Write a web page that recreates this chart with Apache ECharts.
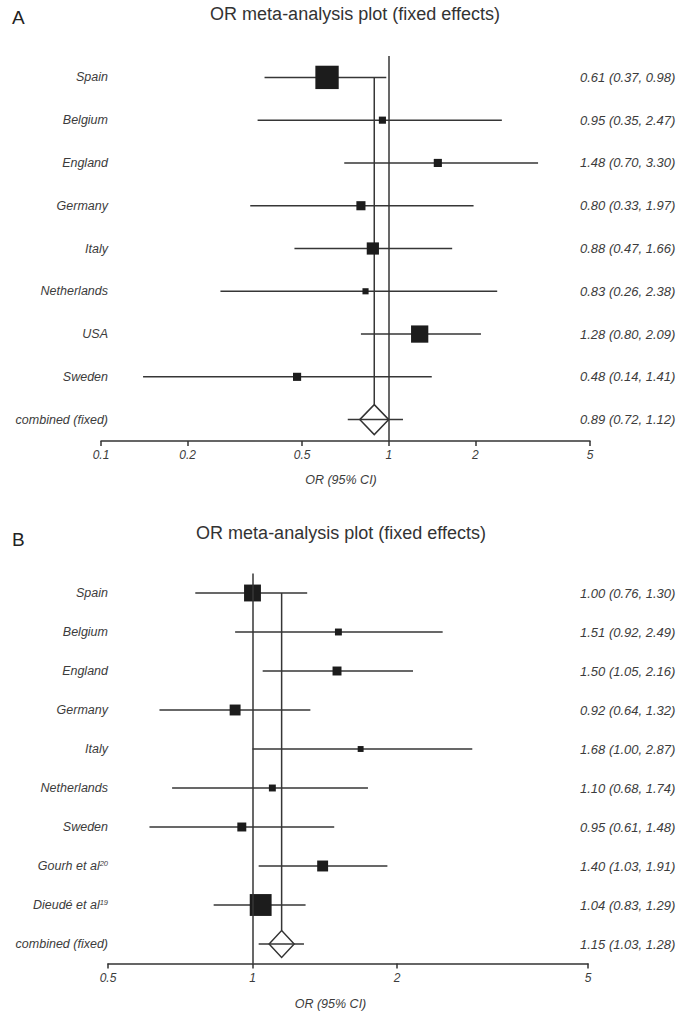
<!DOCTYPE html>
<html><head><meta charset="utf-8">
<script src="https://cdn.jsdelivr.net/npm/echarts@6/dist/echarts.min.js"></script>
<style>html,body{margin:0;padding:0;background:#fff}#c{width:689px;height:1024px}</style>
</head><body><div id="c"></div>
<script>
// ---------- Panel A data ----------
const studiesA = ['Spain','Belgium','England','Germany','Italy','Netherlands','USA','Sweden','combined (fixed)'];
const refsA    = ['','','','','','','','',''];
const orA      = [0.61,0.95,1.48,0.80,0.88,0.83,1.28,0.48,0.89];
const lowA     = [0.37,0.35,0.70,0.33,0.47,0.26,0.80,0.14,0.72];
const highA    = [0.98,2.47,3.30,1.97,1.66,2.38,2.09,1.41,1.12];
const weightA  = [42.1,3.9,5.1,6.4,11.5,2.9,23.0,5.1];   // relative study weights (%)
const ticksA   = [0.1,0.2,0.5,1,2,5];

// ---------- Panel B data ----------
const studiesB = ['Spain','Belgium','England','Germany','Italy','Netherlands','Sweden','Gourh et al','Dieudé et al','combined (fixed)'];
const refsB    = ['','','','','','','','20','19',''];
const orB      = [1.00,1.51,1.50,0.92,1.68,1.10,0.95,1.40,1.04,1.15];
const lowB     = [0.76,0.92,1.05,0.64,1.00,0.68,0.61,1.03,0.83,1.03];
const highB    = [1.30,2.49,2.16,1.32,2.87,1.74,1.48,1.91,1.29,1.28];
const weightB  = [22.0,3.7,6.2,9.2,2.7,3.7,6.2,9.2,36.9];
const ticksB   = [0.5,1,2,5];

const titleText = 'OR meta-analysis plot (fixed effects)';
const axisName = 'OR (95% CI)';

// ---------- styling ----------
const FONT = 'Liberation Sans';
const TXT = '#3c3c3c';
const LINE = '#363636';
const sizeK = 3.6;
const lg = v => Math.log10(v);
const f2 = v => v.toFixed(2);
const fmtTick = v => String(parseFloat(Math.pow(10, v).toPrecision(6)));

const grids = [], xAxes = [], yAxes = [], series = [];

function panel(k, cfg) {
  const {names, refs, or, lo, hi, w, ticks, min, max, grid, leftOff, rightOff, namePad, nameGap, diamond} = cfg;
  const n = names.length, last = n - 1;
  grids.push(grid);
  xAxes.push({
    gridIndex: k, type: 'value', min: lg(min), max: lg(max),
    splitLine: {show: false},
    axisLine: {show: true, onZero: false, lineStyle: {color: '#333', width: 1.5}},
    axisTick: {show: true, customValues: ticks.map(lg), length: 5, lineStyle: {color: '#333', width: 1.5}},
    axisLabel: {customValues: ticks.map(lg), formatter: fmtTick, fontStyle: 'italic', fontSize: 12,
      color: TXT, margin: 8, fontFamily: FONT},
    name: axisName, nameLocation: 'middle', nameGap: nameGap,
    nameTextStyle: {fontStyle: 'italic', fontSize: 12.5, color: TXT, fontFamily: FONT, padding: namePad}
  });
  yAxes.push({
    gridIndex: k, type: 'category', data: names, inverse: true, position: 'left', offset: leftOff,
    axisLine: {show: false}, axisTick: {show: false}, splitLine: {show: false},
    axisLabel: {interval: 0, margin: 0, fontStyle: 'italic', fontSize: 12.5, color: TXT, fontFamily: FONT,
      formatter: (v, i) => refs[i] ? v + '{sup|' + refs[i] + '}' : v,
      rich: {sup: {fontSize: 7.5, fontStyle: 'italic', color: TXT, fontFamily: FONT, verticalAlign: 'top', padding: [0, 0, 6, 0]}}}
  });
  yAxes.push({
    gridIndex: k, type: 'category', inverse: true, position: 'right', offset: rightOff,
    data: or.map((v, i) => f2(v) + ' (' + f2(lo[i]) + ', ' + f2(hi[i]) + ')'),
    axisLine: {show: false}, axisTick: {show: false}, splitLine: {show: false},
    axisLabel: {interval: 0, margin: 0, align: 'left', fontStyle: 'italic', fontSize: 13, color: TXT, fontFamily: FONT}
  });
  const yi = 2 * k;
  // confidence interval lines
  series.push({
    type: 'custom', xAxisIndex: k, yAxisIndex: yi, silent: true, z: 2,
    data: or.map((v, i) => [lg(lo[i]), lg(hi[i]), i]),
    encode: {x: [0, 1], y: 2},
    renderItem: (p, api) => {
      const a = api.coord([api.value(0), api.value(2)]);
      const b = api.coord([api.value(1), api.value(2)]);
      return {type: 'line', shape: {x1: a[0], y1: a[1], x2: b[0], y2: b[1]}, style: {stroke: LINE, lineWidth: 1.5}};
    }
  });
  // vertical line at pooled estimate
  series.push({
    type: 'custom', xAxisIndex: k, yAxisIndex: yi, silent: true, z: 2,
    data: [[lg(or[last]), 0, last]],
    encode: {x: 0, y: [1, 2]},
    renderItem: (p, api) => {
      const a = api.coord([api.value(0), api.value(1)]);
      const b = api.coord([api.value(0), api.value(2)]);
      return {type: 'line', shape: {x1: a[0], y1: a[1], x2: b[0], y2: b[1] - diamond[1] / 2}, style: {stroke: LINE, lineWidth: 1.5}};
    }
  });
  // study squares + line of no effect
  series.push({
    type: 'scatter', xAxisIndex: k, yAxisIndex: yi, z: 4, silent: true,
    symbol: 'rect',
    symbolSize: (val, p) => sizeK * Math.sqrt(w[p.dataIndex]),
    itemStyle: {color: '#1c1c1c', opacity: 1},
    data: or.slice(0, last).map((v, i) => [lg(v), i]),
    markLine: {silent: true, symbol: ['none', 'none'], label: {show: false},
      lineStyle: {color: LINE, width: 1.5, type: 'solid'}, data: [{xAxis: lg(1)}]}
  });
  // pooled diamond
  series.push({
    type: 'scatter', xAxisIndex: k, yAxisIndex: yi, z: 5, silent: true,
    symbol: 'diamond', symbolSize: diamond,
    itemStyle: {color: 'rgba(255,255,255,0)', borderColor: '#333', borderWidth: 1.5, opacity: 1},
    data: [[lg(or[last]), last]]
  });
}

panel(0, {names: studiesA, refs: refsA, or: orA, lo: lowA, hi: highA, w: weightA, ticks: ticksA,
  min: 0.1, max: 5, grid: {left: 101, width: 489, top: 56, height: 385},
  leftOff: -7, rightOff: -10, namePad: [0, 9, 0, 0], nameGap: 32, diamond: [29, 30]});
panel(1, {names: studiesB, refs: refsB, or: orB, lo: lowB, hi: highB, w: weightB, ticks: ticksB,
  min: 0.5, max: 5, grid: {left: 108, width: 480, top: 573.5, height: 390},
  leftOff: 0, rightOff: -8, namePad: [0, 35, 0, 0], nameGap: 34, diamond: [25, 27]});

const chart = echarts.init(document.getElementById('c'), null, {renderer: 'svg'});
chart.setOption({
  animation: false,
  backgroundColor: '#fff',
  title: [
    {text: 'A', left: 12, top: 8, padding: 0, textStyle: {fontSize: 19, fontWeight: 'normal', color: '#222', fontFamily: FONT}},
    {text: titleText, left: 355, top: 5, padding: 0, textAlign: 'center', textStyle: {fontSize: 18, fontWeight: 'normal', color: '#333', fontFamily: FONT}},
    {text: 'B', left: 12, top: 530, padding: 0, textStyle: {fontSize: 19, fontWeight: 'normal', color: '#222', fontFamily: FONT}},
    {text: titleText, left: 341, top: 524, padding: 0, textAlign: 'center', textStyle: {fontSize: 18, fontWeight: 'normal', color: '#333', fontFamily: FONT}}
  ],
  grid: grids, xAxis: xAxes, yAxis: yAxes, series: series
});
</script></body></html>
